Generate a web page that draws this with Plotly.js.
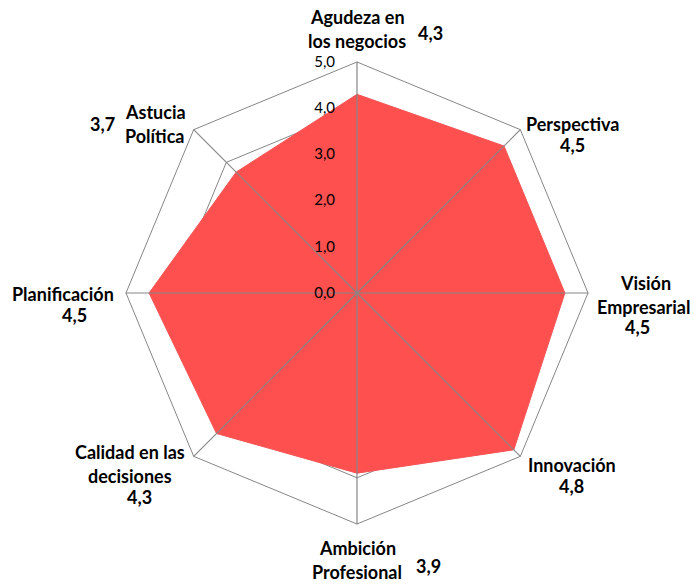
<!DOCTYPE html>
<html>
<head>
<meta charset="utf-8">
<script src="https://cdn.plot.ly/plotly-3.0.1.min.js"></script>
<style>
  html, body { margin: 0; padding: 0; background: #fff; }
  #chart { width: 694px; height: 584px; }
</style>
</head>
<body>
<div id="chart"></div>
<script>
// categories, clockwise from the top ("\n" marks the label line break)
var categories = [
    'Agudeza en\nlos negocios',
    'Perspectiva',
    'Visión\nEmpresarial',
    'Innovación',
    'Ambición\nProfesional',
    'Calidad en las\ndecisiones',
    'Planificación',
    'Astucia\nPolítica'
];
var scores = [4.3, 4.5, 4.5, 4.8, 3.9, 4.3, 4.5, 3.7];
var radialTicks = [0, 1, 2, 3, 4, 5];

// label placement in pixels: x of each line, y of first line, value position
var W = 694, H = 584;
var labelPos = [
    {x: [357, 357], y: 17, vx: 430, vy: 33},
    {x: [572], y: 124, vx: 572, vy: 145},
    {x: [645, 643], y: 283, vx: 637, vy: 327},
    {x: [572], y: 465, vx: 571, vy: 486},
    {x: [357, 357], y: 548, vx: 428, vy: 566},
    {x: [130, 130], y: 452, vx: 139, vy: 497},
    {x: [63], y: 294, vx: 74, vy: 315},
    {x: [155, 155], y: 112, vx: 102, vy: 124}
];
var lineGap = 24;

var theta = categories.map(function (c) { return c.replace('\n', ' '); });
var gridColor = '#868686';
var labelFont = {family: 'Lato, "Open Sans", sans-serif', size: 18, color: '#000'};
var rMax = radialTicks[radialTicks.length - 1];
var pad = '\u00a0\u00a0\u00a0\u00a0\u00a0';

function fmt(v) { return v.toFixed(1).replace('.', ','); }

// spokes from the centre to the outer ring, drawn over the fill
var spokeR = [], spokeT = [];
theta.forEach(function (t) {
    spokeR.push(0, rMax, null);
    spokeT.push(t, t, null);
});

var data = [{
    type: 'scatterpolar',
    r: scores.concat([scores[0]]),
    theta: theta.concat([theta[0]]),
    mode: 'lines',
    fill: 'toself',
    fillcolor: '#FF5050',
    line: {color: '#F55454', width: 1},
    hoverinfo: 'skip'
}, {
    type: 'scatterpolar',
    r: spokeR,
    theta: spokeT,
    mode: 'lines+markers',
    marker: {size: 1, color: gridColor},
    line: {color: gridColor, width: 1.2},
    hoverinfo: 'skip'
}];

var annotations = [];
categories.forEach(function (c, i) {
    var p = labelPos[i];
    c.split('\n').forEach(function (line, j) {
        annotations.push({
            text: '<b>' + line + '</b>',
            xref: 'paper', yref: 'paper',
            x: p.x[j] / W, y: 1 - (p.y + j * lineGap) / H,
            xanchor: 'center', yanchor: 'middle',
            showarrow: false, font: labelFont
        });
    });
    annotations.push({
        text: '<b>' + fmt(scores[i]) + '</b>',
        xref: 'paper', yref: 'paper',
        x: p.vx / W, y: 1 - p.vy / H,
        xanchor: 'center', yanchor: 'middle',
        showarrow: false, font: labelFont
    });
});

var layout = {
    width: W,
    height: H,
    margin: {l: 0, r: 0, t: 0, b: 0},
    paper_bgcolor: '#fff',
    showlegend: false,
    font: {family: 'Lato, sans-serif', color: '#000'},
    polar: {
        domain: {x: [126 / W, 588 / W], y: [1 - 524 / H, 1 - 62 / H]},
        gridshape: 'linear',
        bgcolor: '#fff',
        radialaxis: {
            range: [0, rMax],
            tickmode: 'array',
            tickvals: radialTicks,
            ticktext: radialTicks.map(function (v) { return fmt(v) + pad; }),
            angle: 90,
            side: 'counterclockwise',
            tickangle: 90,
            ticks: '',
            showline: false,
            showgrid: true,
            gridcolor: gridColor,
            gridwidth: 1,
            tickfont: {family: 'Lato, sans-serif', size: 15, color: '#000'}
        },
        angularaxis: {
            direction: 'clockwise',
            rotation: 90,
            showticklabels: false,
            ticks: '',
            showgrid: false,
            showline: true,
            linecolor: gridColor,
            linewidth: 1
        }
    },
    annotations: annotations
};

var config = {staticPlot: true};

Plotly.newPlot('chart', data, layout, config);
</script>
</body>
</html>
